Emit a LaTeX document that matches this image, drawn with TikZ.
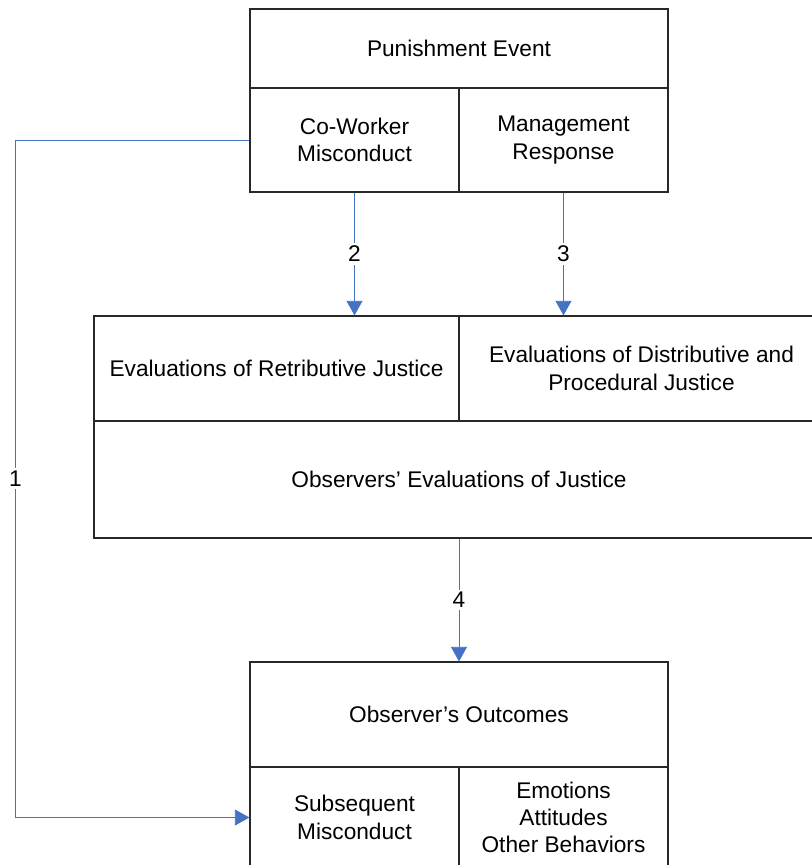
\documentclass[tikz,border=0pt]{standalone}
\usepackage{fontspec}
\setmainfont{Liberation Sans}
\usetikzlibrary{positioning,arrows.meta,calc}
\definecolor{boxLine}{RGB}{40,40,40}
\definecolor{linkBlue}{RGB}{68,114,196}

\begin{document}
\begin{tikzpicture}[x=0.75pt,y=-0.75pt,
    cell/.style={draw=boxLine,line width=0.8pt,rectangle,inner sep=0pt,
      align=center,font=\fontsize{17}{20.5}\selectfont},
    size/.style 2 args={minimum width=#1*0.75pt,minimum height=#2*0.75pt},
    link/.style={draw=linkBlue,line width=0.7pt,-{Triangle[length=11pt,width=12pt]}},
    num/.style={fill=white,inner sep=2pt,font=\fontsize{17}{20}\selectfont}]
        \clip (0,0) rectangle (812,865);
        % punishment event
        \node[cell,size={418}{79}] (pe) at (459,48.5) {Punishment Event};
        \node[cell,size={209}{104}] (cw) at (354.5,140) {Co-Worker\\Misconduct};
        \node[cell,size={209}{104}] (mr) at (563.5,140) {Management\\Response};
        % evaluations of justice
        \node[cell,size={365}{105}] (erj) at (276.5,368.5) {Evaluations of Retributive Justice};
        \node[cell,size={365}{105}] (edp) at (641.5,368.5) {Evaluations of Distributive and\\Procedural Justice};
        \node[cell,size={730}{117}] (oej) at (459,479.5) {Observers’ Evaluations of Justice};
        % outcomes
        \node[cell,size={418}{105}] (oo) at (459,714.5) {Observer’s Outcomes};
        \node[cell,size={209}{101}] (sm) at (354.5,817.5) {Subsequent\\Misconduct};
        \node[cell,size={209}{101}] (eao) at (563.5,817.5) {Emotions\\Attitudes\\Other Behaviors};
        % links
        \coordinate (loop) at (15.5,0);
        \draw[link] (cw.west) -- (cw.west -| loop) -- node[num]{1} (sm.west -| loop) -- (sm.west);
        \draw[link] (cw.south) -- node[num]{2} (cw.south |- erj.north);
        \draw[link] (mr.south) -- node[num]{3} (mr.south |- edp.north);
        \draw[link] (oej.south) -- node[num]{4} (oo.north);
      \end{tikzpicture}
\end{document}
